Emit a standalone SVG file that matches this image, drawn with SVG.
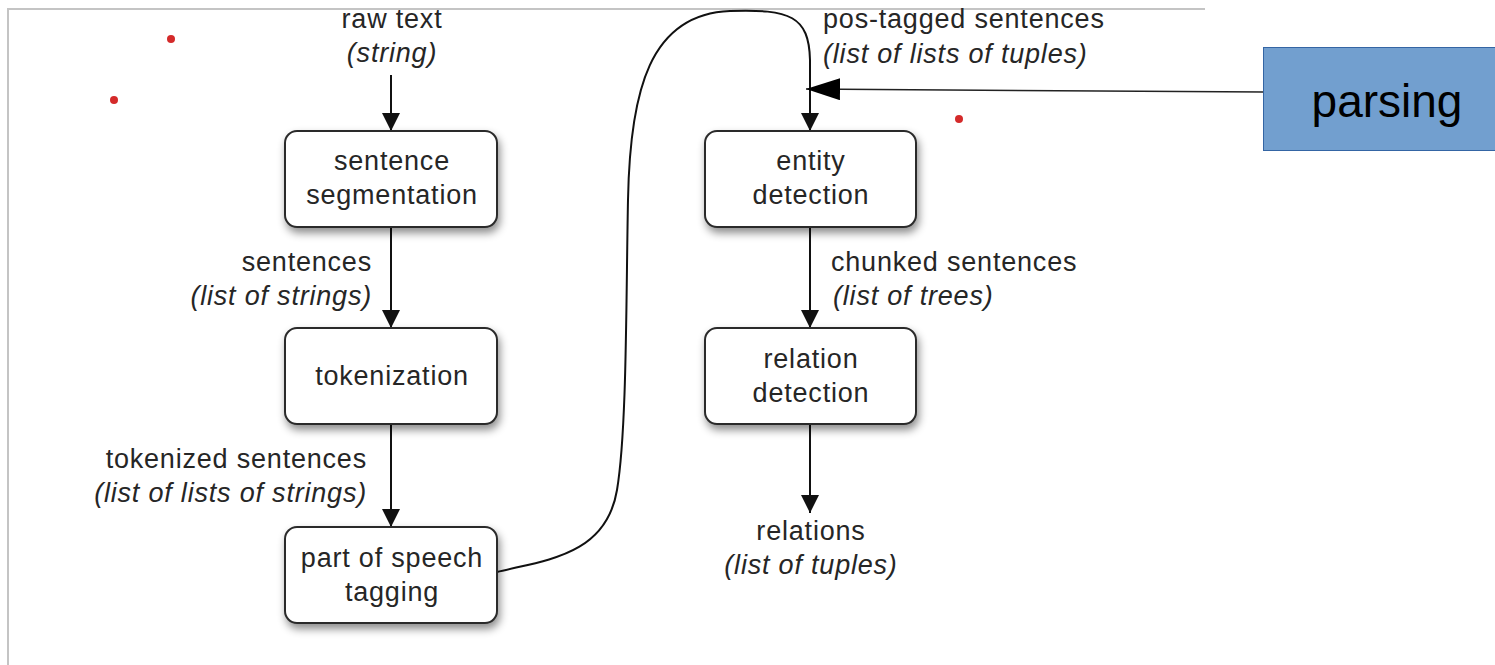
<svg xmlns="http://www.w3.org/2000/svg" width="1495" height="665" viewBox="0 0 1495 665">
  <style>
    .lbl { font-family: "Liberation Sans", Arial, sans-serif; font-size: 27px; letter-spacing: 0.8px; fill: #262626; }
    .it { font-style: italic; }
    .box { fill: #ffffff; stroke: #2a2a2a; stroke-width: 2; filter: url(#shadow); }
    .wire { fill: none; stroke: #111; stroke-width: 2; }
    .dot { fill: #d42a2a; }
  </style>
  <defs>
    <filter id="shadow" x="-20%" y="-20%" width="140%" height="160%">
      <feDropShadow dx="2" dy="5" stdDeviation="4" flood-color="#000" flood-opacity="0.45"/>
    </filter>
    <marker id="arrow" viewBox="0 0 18 20" refX="18" refY="10" markerWidth="18" markerHeight="20" markerUnits="userSpaceOnUse" orient="auto">
      <path d="M0,1 L18,10 L0,19 Z" fill="#111"/>
    </marker>
    <marker id="bigarrow" viewBox="0 0 34 22" refX="34" refY="11" markerWidth="34" markerHeight="22" markerUnits="userSpaceOnUse" orient="auto">
      <path d="M0,0 L34,11 L0,22 Z" fill="#000"/>
    </marker>
  </defs>

  <rect width="1495" height="665" fill="#ffffff"/>

  <!-- page frame -->
  <g id="frame" stroke="#c4c4c4" stroke-width="2" fill="none">
    <path d="M8,665 L8,9 L1205,9"/>
  </g>

  <!-- stray markers -->
  <g id="dots">
    <circle class="dot" cx="171" cy="39" r="4"/>
    <circle class="dot" cx="114" cy="100" r="4"/>
    <circle class="dot" cx="959" cy="119" r="4"/>
  </g>

  <!-- connectors -->
  <g id="connectors">
    <path class="wire" d="M391,75 L391,131" marker-end="url(#arrow)"/>
    <path class="wire" d="M391,227 L391,328" marker-end="url(#arrow)"/>
    <path class="wire" d="M391,424 L391,527" marker-end="url(#arrow)"/>
    <path class="wire" d="M497,572 C545,560 606,556 617,490 C627,430 626,300 628,200 C630,90 650,14 730,11 C790,9 809,16 810,60 L810,131" marker-end="url(#arrow)"/>
    <path class="wire" d="M810,227 L810,328" marker-end="url(#arrow)"/>
    <path class="wire" d="M810,424 L810,513" marker-end="url(#arrow)"/>
    <path d="M1264,92 L806,89" stroke="#222" stroke-width="1.5" fill="none" marker-end="url(#bigarrow)"/>
  </g>

  <!-- edge labels -->
  <g id="labels" class="lbl">
    <text x="392" y="28" text-anchor="middle">raw text</text>
    <text x="392" y="62" text-anchor="middle" class="it">(string)</text>
    <text x="372" y="271" text-anchor="end">sentences</text>
    <text x="372" y="305" text-anchor="end" class="it">(list of strings)</text>
    <text x="367" y="468" text-anchor="end">tokenized sentences</text>
    <text x="367" y="502" text-anchor="end" class="it">(list of lists of strings)</text>
    <text x="823" y="28">pos-tagged sentences</text>
    <text x="823" y="63" class="it">(list of lists of tuples)</text>
    <text x="831" y="271">chunked sentences</text>
    <text x="833" y="305" class="it">(list of trees)</text>
    <text x="811" y="540" text-anchor="middle">relations</text>
    <text x="811" y="574" text-anchor="middle" class="it">(list of tuples)</text>
  </g>

  <g id="sentence-segmentation">
    <rect class="box" x="285" y="131" width="212" height="96" rx="12"/>
    <text class="lbl" x="392" y="170" text-anchor="middle">sentence</text>
    <text class="lbl" x="392" y="204" text-anchor="middle">segmentation</text>
  </g>

  <g id="tokenization">
    <rect class="box" x="285" y="328" width="212" height="96" rx="12"/>
    <text class="lbl" x="392" y="385" text-anchor="middle">tokenization</text>
  </g>

  <g id="pos-tagging">
    <rect class="box" x="285" y="527" width="212" height="96" rx="12"/>
    <text class="lbl" x="392" y="567" text-anchor="middle">part of speech</text>
    <text class="lbl" x="392" y="601" text-anchor="middle">tagging</text>
  </g>

  <g id="entity-detection">
    <rect class="box" x="705" y="131" width="211" height="96" rx="12"/>
    <text class="lbl" x="811" y="170" text-anchor="middle">entity</text>
    <text class="lbl" x="811" y="204" text-anchor="middle">detection</text>
  </g>

  <g id="relation-detection">
    <rect class="box" x="705" y="328" width="211" height="96" rx="12"/>
    <text class="lbl" x="811" y="368" text-anchor="middle">relation</text>
    <text class="lbl" x="811" y="402" text-anchor="middle">detection</text>
  </g>

  <g id="parsing">
    <rect x="1263.5" y="47.5" width="240" height="103" fill="#729fcf" stroke="#3465a4" stroke-width="1"/>
    <text x="1387" y="117" text-anchor="middle" font-family="Liberation Sans, Arial, sans-serif" font-size="46" fill="#000">parsing</text>
  </g>
</svg>
